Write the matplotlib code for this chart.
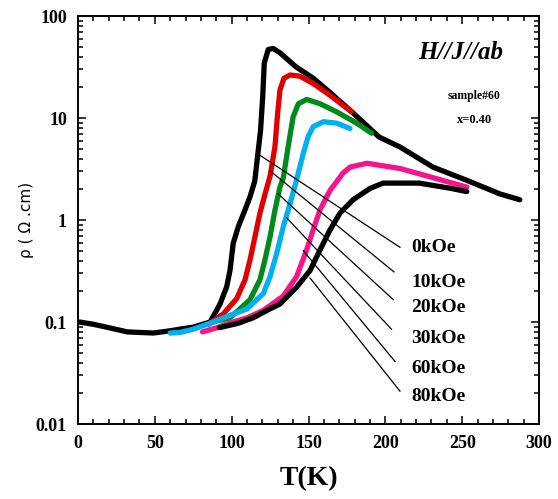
import numpy as np
import matplotlib.pyplot as plt
from matplotlib.ticker import MultipleLocator, LogLocator, NullFormatter, FixedFormatter, FixedLocator

plt.rcParams['font.family'] = ['Liberation Serif', 'DejaVu Serif']
plt.rcParams['font.weight'] = 'bold'

# resistivity vs temperature
T_0k = [1, 10, 20, 32, 49, 60, 66, 75, 86, 92.4, 96.7, 98.9, 101, 104.3, 108.7, 112, 115,
        118.8, 120.2, 121.2, 123.8, 127, 131.4, 142, 153, 164, 179, 196, 209.5, 231, 253, 274.6, 287.5]
R_0k = [0.1, 0.095, 0.088, 0.08, 0.078, 0.082, 0.085, 0.089, 0.1, 0.15, 0.22, 0.32, 0.59, 0.86,
        1.26, 1.7, 2.4, 7.6, 16.3, 34.6, 47, 48, 43.6, 31.6, 24.6, 17.8, 11.2, 6.5, 5.2, 3.3, 2.45, 1.8, 1.58]

T_10k = [85, 94.5, 103.3, 108.7, 112, 115.2, 118.4, 121.7, 125, 128.2, 129.9, 131.4, 134, 138,
         144.4, 153, 164, 178]
R_10k = [0.095, 0.12, 0.17, 0.26, 0.41, 0.69, 1.17, 1.8, 2.7, 5.3, 11.1, 18.8, 24.5, 26.4,
         25.7, 21.8, 16.7, 11.5]

T_20k = [88, 98.9, 112, 118.4, 121.7, 125, 128.2, 131.4, 133.6, 136.8, 140, 143.4, 148.8,
         157.5, 168.3, 181.3, 191]
R_20k = [0.1, 0.11, 0.166, 0.26, 0.41, 0.69, 1.26, 2.1, 2.6, 5.3, 10.3, 13.8, 15.2,
         13.8, 11.5, 8.9, 7.1]

T_30k = [60, 66.4, 75, 88, 98, 109.8, 120.6, 125, 129.3, 133.6, 138, 142.3, 146.6, 149.8,
         153, 159.6, 168.3, 177]
R_30k = [0.078, 0.079, 0.085, 0.1, 0.115, 0.134, 0.19, 0.28, 0.47, 0.86, 1.45, 2.5, 4.5, 6.6,
         8.2, 9.2, 8.9, 7.9]

T_60k = [81, 90.5, 98.9, 110, 120.6, 133.6, 142.3, 148.8, 153, 157.5, 164, 172.6, 177, 188,
         209.5, 231, 253]
R_60k = [0.08, 0.088, 0.098, 0.11, 0.13, 0.18, 0.28, 0.51, 0.8, 1.26, 1.95, 2.9, 3.3, 3.6,
         3.2, 2.6, 2.1]

T_80k = [92, 104, 114, 123, 131.4, 142.3, 151, 157.5, 164, 170.5, 179, 190, 198.5, 222, 242, 253]
R_80k = [0.088, 0.097, 0.11, 0.13, 0.15, 0.22, 0.32, 0.51, 0.8, 1.17, 1.58, 2.04, 2.3, 2.3, 2.05, 1.9]

series = [
    ('0kOe', T_0k, R_0k, 'black'),
    ('10kOe', T_10k, R_10k, '#e00000'),
    ('20kOe', T_20k, R_20k, '#008a1c'),
    ('30kOe', T_30k, R_30k, '#00b0f0'),
    ('60kOe', T_60k, R_60k, '#f5148c'),
    ('80kOe', T_80k, R_80k, 'black'),
]

# pointer lines: start on curve -> end near label
ptr_start_T = [118.8, 125.4, 130.3, 135.8, 146.6, 151]
ptr_start_R = [4.27, 3.0, 1.8, 1.05, 0.50, 0.27]
ptr_end_T = [209.5, 205.6, 205.1, 204, 206.3, 209.5]
ptr_end_R = [0.54, 0.31, 0.166, 0.085, 0.041, 0.021]
label_T = 217
label_R = [0.54, 0.245, 0.14, 0.069, 0.035, 0.0185]

fig = plt.figure(figsize=(5.58, 4.99), dpi=100)
ax = fig.add_axes([0.1398, 0.1503, 0.8262, 0.8176])

for name, t, r, c in series:
    ax.plot(t, r, color=c, lw=3.8, solid_capstyle='round', solid_joinstyle='round')

for i, (name, t, r, c) in enumerate(series):
    ax.plot([ptr_start_T[i], ptr_end_T[i]], [ptr_start_R[i], ptr_end_R[i]], color='black', lw=0.9)
    ax.text(label_T, label_R[i], name, fontsize=14, fontweight='bold', va='center', ha='left')

ax.set_yscale('log')
ax.set_xlim(0, 300)
ax.set_ylim(0.01, 100)

ax.xaxis.set_major_locator(MultipleLocator(50))
ax.xaxis.set_minor_locator(MultipleLocator(10))
ax.yaxis.set_major_locator(FixedLocator([0.01, 0.1, 1, 10, 100]))
ax.yaxis.set_major_formatter(FixedFormatter(['0.01', '0.1', '1', '10', '100']))
ax.yaxis.set_minor_locator(LogLocator(base=10, subs=np.arange(2, 10)))
ax.yaxis.set_minor_formatter(NullFormatter())

ax.tick_params(which='both', direction='in', top=True, right=True, width=1.1)
ax.tick_params(which='major', length=6, labelsize=13, pad=8)
ax.tick_params(which='minor', length=3.5)
for lab in ax.get_xticklabels() + ax.get_yticklabels():
    lab.set_fontweight('bold')
for s in ax.spines.values():
    s.set_linewidth(1.4)

ax.set_xlabel('T(K)', fontsize=20, fontweight='bold', labelpad=10)
ax.set_ylabel('ρ ( Ω .cm)', fontsize=11, fontweight='normal', family='DejaVu Sans', labelpad=1)

ax.text(0.83, 0.91, 'H//J//ab', transform=ax.transAxes, fontsize=18, fontweight='bold',
        style='italic', ha='center', va='center')
ax.text(0.86, 0.805, 'sample#60', transform=ax.transAxes, fontsize=8.5, fontweight='bold',
        ha='center', va='center')
ax.text(0.86, 0.745, 'x=0.40', transform=ax.transAxes, fontsize=9, fontweight='bold',
        ha='center', va='center')

fig.savefig('out.png', dpi=100)
